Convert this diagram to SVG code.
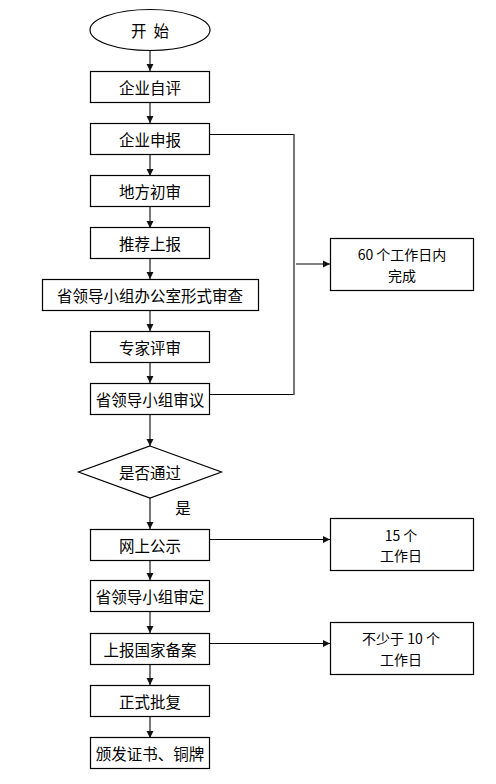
<svg xmlns="http://www.w3.org/2000/svg" width="496" height="784" viewBox="0 0 496 784">
<defs>
<style>
.box{fill:#fff;stroke:#000;stroke-width:1.2}
.t{font-family:"Noto Sans CJK SC","Liberation Sans",sans-serif;font-size:15.5px;fill:#000;text-anchor:middle;dominant-baseline:central}
.s{font-size:14px}
.v{stroke:#555;stroke-width:1.6;fill:none}
.h{stroke:#000;stroke-width:1.2;fill:none}
</style>
<marker id="ah" markerWidth="8" markerHeight="8" refX="7" refY="4" orient="auto" markerUnits="userSpaceOnUse">
<path d="M0,0.5 L7,4 L0,7.5 Z" fill="#111"/>
</marker>
</defs>
<rect width="496" height="784" fill="#fff"/>
<g id="connectors">
<line class="v" x1="150" y1="51" x2="150" y2="71" marker-end="url(#ah)"/>
<line class="v" x1="150" y1="102" x2="150" y2="123" marker-end="url(#ah)"/>
<line class="v" x1="150" y1="154" x2="150" y2="176" marker-end="url(#ah)"/>
<line class="v" x1="150" y1="206" x2="150" y2="228" marker-end="url(#ah)"/>
<line class="v" x1="150" y1="258" x2="150" y2="279" marker-end="url(#ah)"/>
<line class="v" x1="150" y1="310" x2="150" y2="331" marker-end="url(#ah)"/>
<line class="v" x1="150" y1="362" x2="150" y2="383" marker-end="url(#ah)"/>
<line class="v" x1="150" y1="414" x2="150" y2="446" marker-end="url(#ah)"/>
<line class="v" x1="150" y1="498" x2="150" y2="529" marker-end="url(#ah)"/>
<line class="v" x1="150" y1="560" x2="150" y2="580" marker-end="url(#ah)"/>
<line class="v" x1="150" y1="611" x2="150" y2="633" marker-end="url(#ah)"/>
<line class="v" x1="150" y1="664" x2="150" y2="685" marker-end="url(#ah)"/>
<line class="v" x1="150" y1="716" x2="150" y2="738" marker-end="url(#ah)"/>
<polyline class="h" points="209,134.5 294,134.5"/>
<polyline class="h" points="209,394.5 294,394.5"/>
<line class="v" x1="294" y1="134" x2="294" y2="395"/>
<line class="h" x1="296" y1="264" x2="330" y2="264" marker-end="url(#ah)"/>
<line class="h" x1="209" y1="539.5" x2="330" y2="539.5" marker-end="url(#ah)"/>
<line class="h" x1="209" y1="643.5" x2="330" y2="643.5" marker-end="url(#ah)"/>
</g>
<g id="start"><ellipse class="box" cx="150" cy="30" rx="60" ry="20.5"/><text class="t" x="150" y="30">开<tspan dx="7">始</tspan></text></g>
<g id="n1"><rect class="box" x="90.5" y="71.5" width="119" height="31"/><text class="t" x="150" y="87">企业自评</text></g>
<g id="n2"><rect class="box" x="90.5" y="123.5" width="119" height="31"/><text class="t" x="150" y="139">企业申报</text></g>
<g id="n3"><rect class="box" x="90.5" y="175.5" width="119" height="31"/><text class="t" x="150" y="191">地方初审</text></g>
<g id="n4"><rect class="box" x="90.5" y="227.5" width="119" height="31"/><text class="t" x="150" y="243">推荐上报</text></g>
<g id="n5"><rect class="box" x="42.5" y="279.5" width="216" height="31"/><text class="t" x="150" y="295">省领导小组办公室形式审查</text></g>
<g id="n6"><rect class="box" x="90.5" y="331.5" width="119" height="31"/><text class="t" x="150" y="347">专家评审</text></g>
<g id="n7"><rect class="box" x="90.5" y="383.5" width="119" height="31"/><text class="t" x="150" y="399">省领导小组审议</text></g>
<g id="d1"><polygon class="box" points="150,446 221.5,472 150,498 78.5,472"/><text class="t" x="150" y="472">是否通过</text></g>
<g id="lblyes"><text class="t" x="183" y="507">是</text></g>
<g id="n8"><rect class="box" x="90.5" y="529.5" width="119" height="31"/><text class="t" x="150" y="545">网上公示</text></g>
<g id="n9"><rect class="box" x="90.5" y="580.5" width="119" height="31"/><text class="t" x="150" y="596">省领导小组审定</text></g>
<g id="n10"><rect class="box" x="90.5" y="633.5" width="119" height="31"/><text class="t" x="150" y="649">上报国家备案</text></g>
<g id="n11"><rect class="box" x="90.5" y="685.5" width="119" height="31"/><text class="t" x="150" y="701">正式批复</text></g>
<g id="n12"><rect class="box" x="90.5" y="737.5" width="119" height="31"/><text class="t" x="150" y="753">颁发证书、铜牌</text></g>
<g id="r1"><rect class="box" x="330.5" y="238.5" width="143" height="52"/><text class="t s" x="402" y="254">60 个工作日内</text><text class="t s" x="402" y="274.5">完成</text></g>
<g id="r2"><rect class="box" x="330.5" y="518.5" width="143" height="52"/><text class="t s" x="401" y="534.5">15 个</text><text class="t s" x="401" y="555">工作日</text></g>
<g id="r3"><rect class="box" x="330.5" y="622.5" width="143" height="52"/><text class="t s" x="401" y="638">不少于 10 个</text><text class="t s" x="401" y="658.5">工作日</text></g>
</svg>
